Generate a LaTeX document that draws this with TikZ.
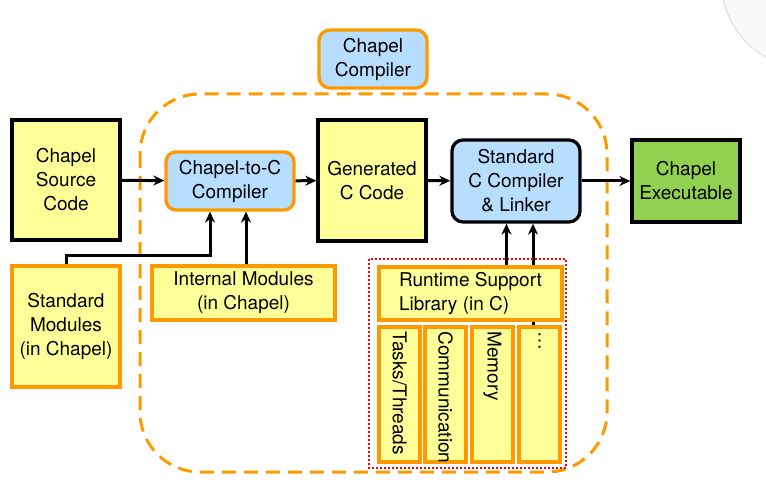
\documentclass[tikz,border=0pt]{standalone}
\usepackage{fontspec}
\setmainfont{TeX Gyre Heros}
\usepackage{xcolor}
\usepackage{tikz}
\usetikzlibrary{positioning, calc, arrows.meta, backgrounds}

\definecolor{chyellow}{RGB}{255,255,153}
\definecolor{chblue}{RGB}{183,222,255}
\definecolor{chgreen}{RGB}{146,208,80}
\definecolor{chorange}{RGB}{255,153,0}

\begin{document}
\begin{tikzpicture}[
      x=1pt, y=-1pt,
      font=\fontsize{19}{24}\selectfont,
      ybox/.style={rectangle, draw=black, fill=chyellow, line width=3.3pt, inner sep=0pt, align=center},
      obox/.style={rectangle, draw=chorange, fill=chyellow, line width=3.3pt, inner sep=0pt, align=center},
      bbox/.style={rectangle, rounded corners=11pt, draw=black, fill=chblue, line width=3.3pt, inner sep=0pt, align=center},
      sub/.style={obox, minimum width=41pt, minimum height=135pt},
      arrow/.style={-{Stealth[length=11pt, width=10pt]}, line width=3pt}
    ]
      \useasboundingbox (0,0) rectangle (766,484);

      % background decoration
      \begin{scope}
        \clip (0,0) rectangle (766,484);
        \draw[gray!30, fill=gray!5, line width=0.8pt] (810,-20) circle (89pt);
      \end{scope}

      % Compiler region
      \draw[chorange, line width=3pt, dash pattern=on 14pt off 8pt, rounded corners=60pt]
        (140,94) rectangle (607,472);
      \node[bbox, draw=chorange, minimum width=108pt, minimum height=58pt] (label) at (373,59) {Chapel\\Compiler};

      % Boxes
      \node[ybox, minimum width=108pt, minimum height=120pt] (src) at (66,180) {Chapel\\Source\\Code};
      \node[bbox, draw=chorange, rounded corners=10pt, minimum width=128pt, minimum height=58pt] (c2c) at (230,181) {Chapel-to-C\\Compiler};
      \node[ybox, minimum width=108pt, minimum height=121pt] (gen) at (372,180.5) {Generated\\C Code};
      \node[bbox, minimum width=128pt, minimum height=82pt] (stdc) at (516,181) {Standard\\C Compiler\\\& Linker};
      \node[ybox, fill=chgreen, minimum width=108pt, minimum height=82pt] (exe) at (686,181) {Chapel\\Executable};

      \node[obox, minimum width=108pt, minimum height=121pt] (stdmod) at (66,326.5) {Standard\\Modules\\(in Chapel)};
      \node[obox, minimum width=183pt, minimum height=54pt] (intmod) at (243.5,293) {Internal Modules\\(in Chapel)};

      % Runtime
      \draw[red, dotted, line width=2pt] (369,259) rectangle (566,468);
      \node[obox, minimum width=183pt, minimum height=53pt, align=left] (rts) at (470.5,293.5) {Runtime Support\\Library (in C)};
      \node[sub] (tasks) at (399.5,394.5) {};
      \node[sub] (comm) at (445.5,394.5) {};
      \node[sub] (mem) at (492.5,394.5) {};
      \node[sub] (more) at (539.5,394.5) {};
      \node[rotate=-90, anchor=west, inner sep=0pt] at ([yshift=-6]tasks.north) {Tasks/Threads};
      \node[rotate=-90, anchor=west, inner sep=0pt] at ([yshift=-6]comm.north) {Communication};
      \node[rotate=-90, anchor=west, inner sep=0pt] at ([yshift=-6]mem.north) {Memory};
      \node[rotate=-90, anchor=west, inner sep=0pt] at ([yshift=-6]more.north) {\ldots};

      % Arrows
      \draw[arrow] (src) -- (c2c);
      \draw[arrow] (c2c) -- (gen);
      \draw[arrow] (gen) -- (stdc);
      \draw[arrow] (stdc) -- (exe);

      \coordinate (bend) at (210,255);
      \draw[arrow] (stdmod.north) |- (bend) -- (bend |- c2c.south);
      \draw[arrow] ([xshift=2.5]intmod.north) -- ([xshift=2.5]intmod.north |- c2c.south);

      \draw[arrow] ([xshift=36]rts.north) -- ([xshift=36]rts.north |- stdc.south);
      \begin{scope}[on background layer]
        \draw[arrow] ([xshift=-6.5]more.north) -- ([xshift=-6.5]more.north |- stdc.south);
      \end{scope}
    \end{tikzpicture}
\end{document}
